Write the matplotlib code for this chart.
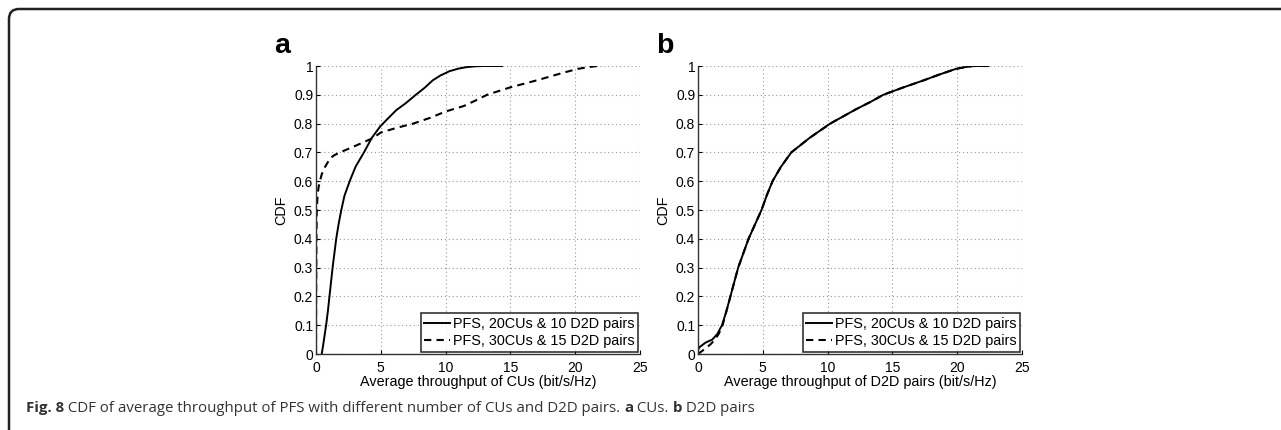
import numpy as np
import matplotlib
matplotlib.use("Agg")
import matplotlib.pyplot as plt
from matplotlib.path import Path
from matplotlib.patches import PathPatch

# panel a: CUs
a_solid_x = [0.44, 0.55, 0.68, 0.78, 0.92, 1.04, 1.16, 1.28, 1.42, 1.56, 1.74, 1.95, 2.2, 2.6, 3.05,
             3.7, 4.3, 4.95, 5.6, 6.2, 6.9, 7.7, 8.4, 9.0, 9.6, 10.3, 11.0, 11.6, 12.3, 12.9, 14.35]
a_solid_y = [0.0, 0.03, 0.07, 0.1, 0.15, 0.2, 0.25, 0.3, 0.35, 0.4, 0.45, 0.5, 0.55, 0.6, 0.65,
             0.7, 0.75, 0.79, 0.82, 0.847, 0.87, 0.9, 0.925, 0.95, 0.967, 0.982, 0.991, 0.996, 0.999, 1.0, 1.0]
a_dash_x = [0.0, 0.01, 0.03, 0.06, 0.12, 0.2, 0.3, 0.45, 0.7, 1.1, 1.4, 1.85, 2.9, 4.4, 5.0, 6.2, 7.5,
            8.8, 10.0, 11.4, 12.3, 13.2, 15.0, 17.1, 19.1, 20.2, 21.0, 21.7, 22.1]
a_dash_y = [0.0, 0.2, 0.4, 0.5, 0.55, 0.58, 0.6, 0.625, 0.65, 0.68, 0.69, 0.7, 0.72, 0.75, 0.769, 0.785, 0.8,
            0.82, 0.842, 0.861, 0.88, 0.9, 0.926, 0.951, 0.977, 0.99, 0.996, 1.0, 1.0]

# panel b: D2D pairs
b_solid_x = [0.0, 0.15, 0.3, 0.6, 1.1, 1.5, 1.85, 2.2, 2.5, 2.8, 3.1, 3.5, 3.9, 4.4, 4.9, 5.3, 5.75, 6.4,
             7.2, 8.6, 10.2, 12.2, 13.3, 14.3, 15.8, 17.4, 18.6, 19.9, 20.6, 21.2, 22.4]
b_solid_y = [0.015, 0.025, 0.03, 0.04, 0.05, 0.07, 0.1, 0.15, 0.2, 0.25, 0.3, 0.35, 0.4, 0.45, 0.5, 0.55, 0.6, 0.65,
             0.7, 0.75, 0.8, 0.85, 0.875, 0.9, 0.925, 0.95, 0.97, 0.99, 0.996, 1.0, 1.0]
b_dash_x = [0.0, 0.3, 0.6, 1.0, 1.3, 1.6, 1.9, 2.2, 2.5, 2.8, 3.1, 3.5, 3.9, 4.4, 4.9, 5.3, 5.75, 6.4,
            7.2, 8.6, 10.2, 12.2, 13.3, 14.3, 15.8, 17.4, 18.6, 19.9, 20.6, 21.2, 22.4]
b_dash_y = [0.0, 0.01, 0.02, 0.035, 0.05, 0.07, 0.1, 0.15, 0.2, 0.25, 0.3, 0.35, 0.4, 0.45, 0.5, 0.55, 0.6, 0.65,
            0.7, 0.75, 0.8, 0.85, 0.875, 0.9, 0.925, 0.95, 0.97, 0.99, 0.996, 1.0, 1.0]

labels = ["PFS, 20CUs & 10 D2D pairs", "PFS, 30CUs & 15 D2D pairs"]
xlabels = ["Average throughput of CUs (bit/s/Hz)", "Average throughput of D2D pairs (bit/s/Hz)"]
panel_tags = ["a", "b"]

W, H = 1281, 430
fig = plt.figure(figsize=(W / 100, H / 100), dpi=100)
axfont = "Liberation Sans"

panels = [(a_solid_x, a_solid_y, a_dash_x, a_dash_y), (b_solid_x, b_solid_y, b_dash_x, b_dash_y)]
lefts = [316, 698]
for i, (sx, sy, dx, dy) in enumerate(panels):
    ax = fig.add_axes([lefts[i] / W, (H - 354) / H, 324 / W, 288 / H])
    ax.plot(sx, sy, color="black", lw=1.4, ls="-", label=labels[0])
    ax.plot(dx, dy, color="black", lw=1.5, ls=(0, (3.5, 2.5)), label=labels[1])
    ax.set_xlim(0, 25)
    ax.set_ylim(0, 1)
    ax.set_xticks(np.arange(0, 26, 5))
    ax.set_yticks(np.arange(0, 1.01, 0.1))
    ax.set_yticklabels(["0"] + [f"{v:.1f}" for v in np.arange(0.1, 0.95, 0.1)] + ["1"])
    ax.grid(True, ls=(0, (1, 2.5)), color="#999999", lw=0.8)
    for s in ["top", "right"]:
        ax.spines[s].set_visible(False)
    for s in ["left", "bottom"]:
        ax.spines[s].set_color("#333333")
        ax.spines[s].set_linewidth(1.0)
    ax.tick_params(direction="in", length=3, width=0.8, labelsize=10)
    ax.tick_params(axis="x", pad=5)
    ax.tick_params(axis="y", pad=2)
    for t in ax.get_xticklabels() + ax.get_yticklabels():
        t.set_fontfamily(axfont)
    ax.set_xlabel(xlabels[i], fontsize=10.4, family=axfont, labelpad=0)
    ax.set_ylabel("CDF", fontsize=10.4, family=axfont, labelpad=4)
    leg = ax.legend(loc="lower right", prop={"family": axfont, "size": 10.4}, frameon=True,
                    fancybox=False, edgecolor="black", borderpad=0.25, handlelength=1.8,
                    handletextpad=0.15, labelspacing=0.22, borderaxespad=0.15)
    leg.get_frame().set_linewidth(1.2)
    fig.text((lefts[i] - 42) / W, (H - 53) / H, panel_tags[i], fontsize=20.5, fontweight="bold",
             family=axfont)

# frame line: top and left with rounded corner
x0, y0, r = 9 / W, 1 - 9 / H, 10
verts = [(x0, 0), (x0, 1 - (9 + r) / H), (x0, y0), ((9 + r) / W, y0), (1, y0)]
codes = [Path.MOVETO, Path.LINETO, Path.CURVE3, Path.CURVE3, Path.LINETO]
fig.patches.append(PathPatch(Path(verts, codes), transform=fig.transFigure, fill=False,
                             lw=1.8, edgecolor="#222222"))

# caption with bold pieces
cap = [("Fig. 8", "bold"), (" CDF of average throughput of PFS with different number of CUs and D2D pairs. ", "normal"),
       ("a", "bold"), (" CUs. ", "normal"), ("b", "bold"), (" D2D pairs", "normal")]
fig.canvas.draw()
renderer = fig.canvas.get_renderer()
xpos = 26
for txt, wt in cap:
    t = fig.text(xpos / W, (H - 412) / H, txt, fontsize=10.8, fontweight=wt, family="Open Sans",
                 color="#333333", va="baseline")
    bb = t.get_window_extent(renderer=renderer)
    xpos += bb.width

fig.savefig("out.png", dpi=100)
